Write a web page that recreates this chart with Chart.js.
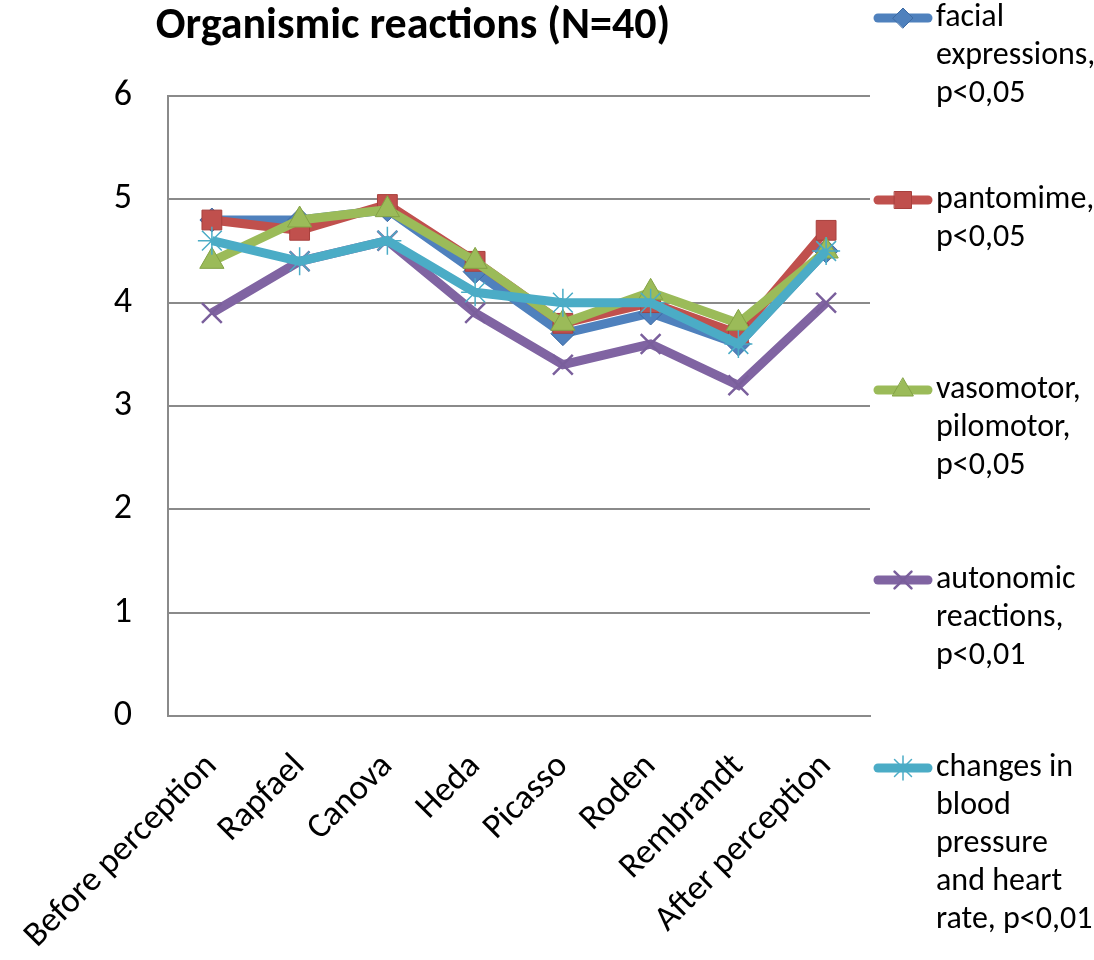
<!DOCTYPE html>
<html>
<head>
<meta charset="utf-8">
<script src="https://cdn.jsdelivr.net/npm/chart.js@4/dist/chart.umd.min.js"></script>
<style>
  body { margin: 0; background: #fff; }
  #wrap { width: 1094px; height: 960px; position: relative; }
</style>
</head>
<body>
<div id="wrap"><canvas id="chart"></canvas></div>
<script>
// data
var categories = ['Before perception', 'Rapfael', 'Canova', 'Heda', 'Picasso', 'Roden', 'Rembrandt', 'After perception'];
var facialExpressions = [4.8, 4.8, 4.9, 4.3, 3.7, 3.9, 3.6, 4.5];
var pantomime = [4.8, 4.7, 4.95, 4.4, 3.8, 4.0, 3.7, 4.7];
var vasomotor = [4.4, 4.8, 4.9, 4.4, 3.8, 4.1, 3.8, 4.5];
var autonomic = [3.9, 4.4, 4.6, 3.9, 3.4, 3.6, 3.2, 4.0];
var bloodPressure = [4.6, 4.4, 4.6, 4.1, 4.0, 4.0, 3.6, 4.5];
var seriesNames = [
    ['facial', 'expressions,', 'p<0,05'],
    ['pantomime,', 'p<0,05'],
    ['vasomotor,', 'pilomotor,', 'p<0,05'],
    ['autonomic', 'reactions,', 'p<0,01'],
    ['changes in', 'blood', 'pressure', 'and heart', 'rate, p<0,01']
];
var yTicks = [0, 1, 2, 3, 4, 5, 6];
var chartTitle = 'Organismic reactions (N=40)';

var FONT = 'Carlito, Calibri, Lato, sans-serif';

function series(data, idx, color, border, style, radius, bw) {
    return {
        label: seriesNames[idx].join(' '),
        data: data,
        borderColor: color,
        backgroundColor: color,
        borderWidth: 9,
        tension: 0,
        pointStyle: style,
        pointRadius: radius,
        pointBackgroundColor: color,
        pointBorderColor: border,
        pointBorderWidth: bw,
        order: 4 - idx
    };
}

var datasets = [
    series(facialExpressions, 0, '#4F81BD', '#3c6aa3', 'rectRot', 12, 1),
    series(pantomime, 1, '#C0504D', '#a8403d', 'rect', 14, 1),
    series(vasomotor, 2, '#9BBB59', '#83a245', 'triangle', 14, 1),
    series(autonomic, 3, '#8064A2', '#7a5f9c', 'crossRot', 14, 2.5),
    series(bloodPressure, 4, '#4BACC6', '#4BACC6', 'star', 14, 1.5)
];

// draws the title and the multi-line legend on the right
var sidePlugin = {
    id: 'side',
    afterDraw: function (chart) {
        var ctx = chart.ctx;
        ctx.save();
        ctx.fillStyle = '#000';
        ctx.font = 'bold 44px ' + FONT;
        ctx.textAlign = 'center';
        ctx.textBaseline = 'middle';
        ctx.fillText(chartTitle, 413, 27);

        var tops = [18, 200, 390, 580, 768];
        ctx.font = '32px ' + FONT;
        ctx.textAlign = 'left';
        chart.data.datasets.forEach(function (ds, i) {
            var y = tops[i];
            ctx.strokeStyle = ds.borderColor;
            ctx.lineWidth = 9;
            ctx.lineCap = 'round';
            ctx.beginPath();
            ctx.moveTo(878, y);
            ctx.lineTo(928, y);
            ctx.stroke();
            ctx.fillStyle = ds.pointBackgroundColor;
            ctx.strokeStyle = ds.pointBorderColor;
            ctx.lineWidth = ds.pointBorderWidth;
            Chart.helpers.drawPoint(ctx, {
                pointStyle: ds.pointStyle,
                radius: ds.pointRadius - 2,
                rotation: 0,
                borderWidth: ds.pointBorderWidth
            }, 903, y);
            ctx.fillStyle = '#000';
            seriesNames[i].forEach(function (line, j) {
                ctx.fillText(line, 936, y + j * 38);
            });
        });
        ctx.restore();
    }
};

new Chart(document.getElementById('chart'), {
    type: 'line',
    data: { labels: categories, datasets: datasets },
    plugins: [sidePlugin],
    options: {
        responsive: true,
        maintainAspectRatio: false,
        animation: false,
        layout: { padding: { top: 96, right: 224, left: 0, bottom: 0 } },
        plugins: {
            legend: { display: false },
            title: { display: false },
            tooltip: { enabled: false }
        },
        scales: {
            x: {
                offset: true,
                grid: { display: false, drawTicks: false },
                border: { display: true, color: '#8a8a8a', width: 2 },
                ticks: {
                    color: '#000',
                    font: { family: FONT, size: 35 },
                    maxRotation: 45,
                    minRotation: 45,
                    padding: 30,
                    autoSkip: false
                },
                afterFit: function (scale) {
                    scale.height = 244;
                    scale.paddingLeft = 0;
                    scale.paddingRight = 0;
                }
            },
            y: {
                min: 0,
                max: 6,
                afterBuildTicks: function (scale) {
                    scale.ticks = yTicks.map(function (v) { return { value: v }; });
                },
                grid: { color: '#8a8a8a', lineWidth: 2, drawTicks: false },
                border: { display: true, color: '#8a8a8a', width: 2 },
                ticks: {
                    color: '#000',
                    font: { family: FONT, size: 36 },
                    padding: 36
                },
                afterFit: function (scale) { scale.width = 168; }
            }
        }
    }
});
</script>
</body>
</html>
